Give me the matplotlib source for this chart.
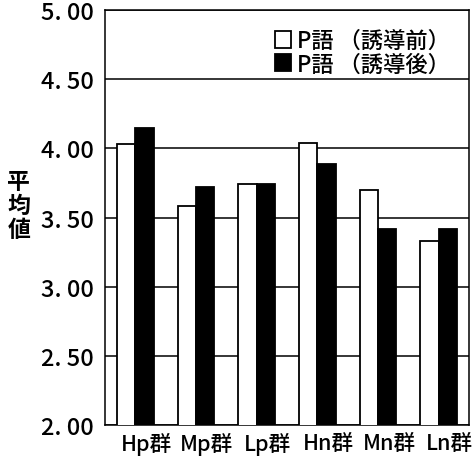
import matplotlib
matplotlib.use("Agg")
import matplotlib.pyplot as plt
import numpy as np

plt.rcParams["font.family"] = ["Noto Sans CJK JP", "DejaVu Sans"]

groups = ["Hp群", "Mp群", "Lp群", "Hn群", "Mn群", "Ln群"]
before = [4.03, 3.58, 3.74, 4.04, 3.70, 3.33]
after = [4.15, 3.72, 3.74, 3.89, 3.42, 3.42]
series_names = ["P語 （誘導前）", "P語 （誘導後）"]
yticks = [2.0, 2.5, 3.0, 3.5, 4.0, 4.5, 5.0]
ytick_labels = ["2. 00", "2. 50", "3. 00", "3. 50", "4. 00", "4. 50", "5. 00"]

fig = plt.figure(figsize=(4.73, 4.64), dpi=100)
ax = fig.add_axes([0.222, 0.082, 0.7695, 0.894])

x = np.arange(len(groups))
w = 0.3
ax.bar(x - w / 2, before, w, color="white", edgecolor="black",
       linewidth=1.3, label=series_names[0], zorder=3)
ax.bar(x + w / 2, after, w, color="black", edgecolor="black",
       linewidth=1.3, label=series_names[1], zorder=3)

ax.set_ylim(2.0, 5.0)
ax.set_xlim(-0.5, len(groups) - 0.5)
ax.set_yticks(yticks)
ax.set_yticklabels(ytick_labels, fontsize=17, fontweight="medium")
ax.set_xticks(x + 0.18)
ax.set_xticklabels(groups, fontsize=15.5, fontweight="medium")
ax.tick_params(axis="both", length=0)
ax.tick_params(axis="y", pad=8)
ax.tick_params(axis="x", pad=5)
ax.yaxis.grid(True, color="black", linewidth=1.1, zorder=0)
ax.set_axisbelow(True)
for s in ax.spines.values():
    s.set_linewidth(1.1)

fig.text(0.04, 0.555, "平\n均\n値", fontsize=16.5, ha="center", va="center",
         linespacing=1.05, fontweight="bold")

ax.legend(loc="upper right", frameon=False, prop={"size": 16, "weight": "medium"},
          handlelength=0.7, handleheight=0.8, handletextpad=0.3,
          labelspacing=0.02, borderaxespad=0.55, borderpad=0.3)

fig.savefig("out.png", dpi=100)
